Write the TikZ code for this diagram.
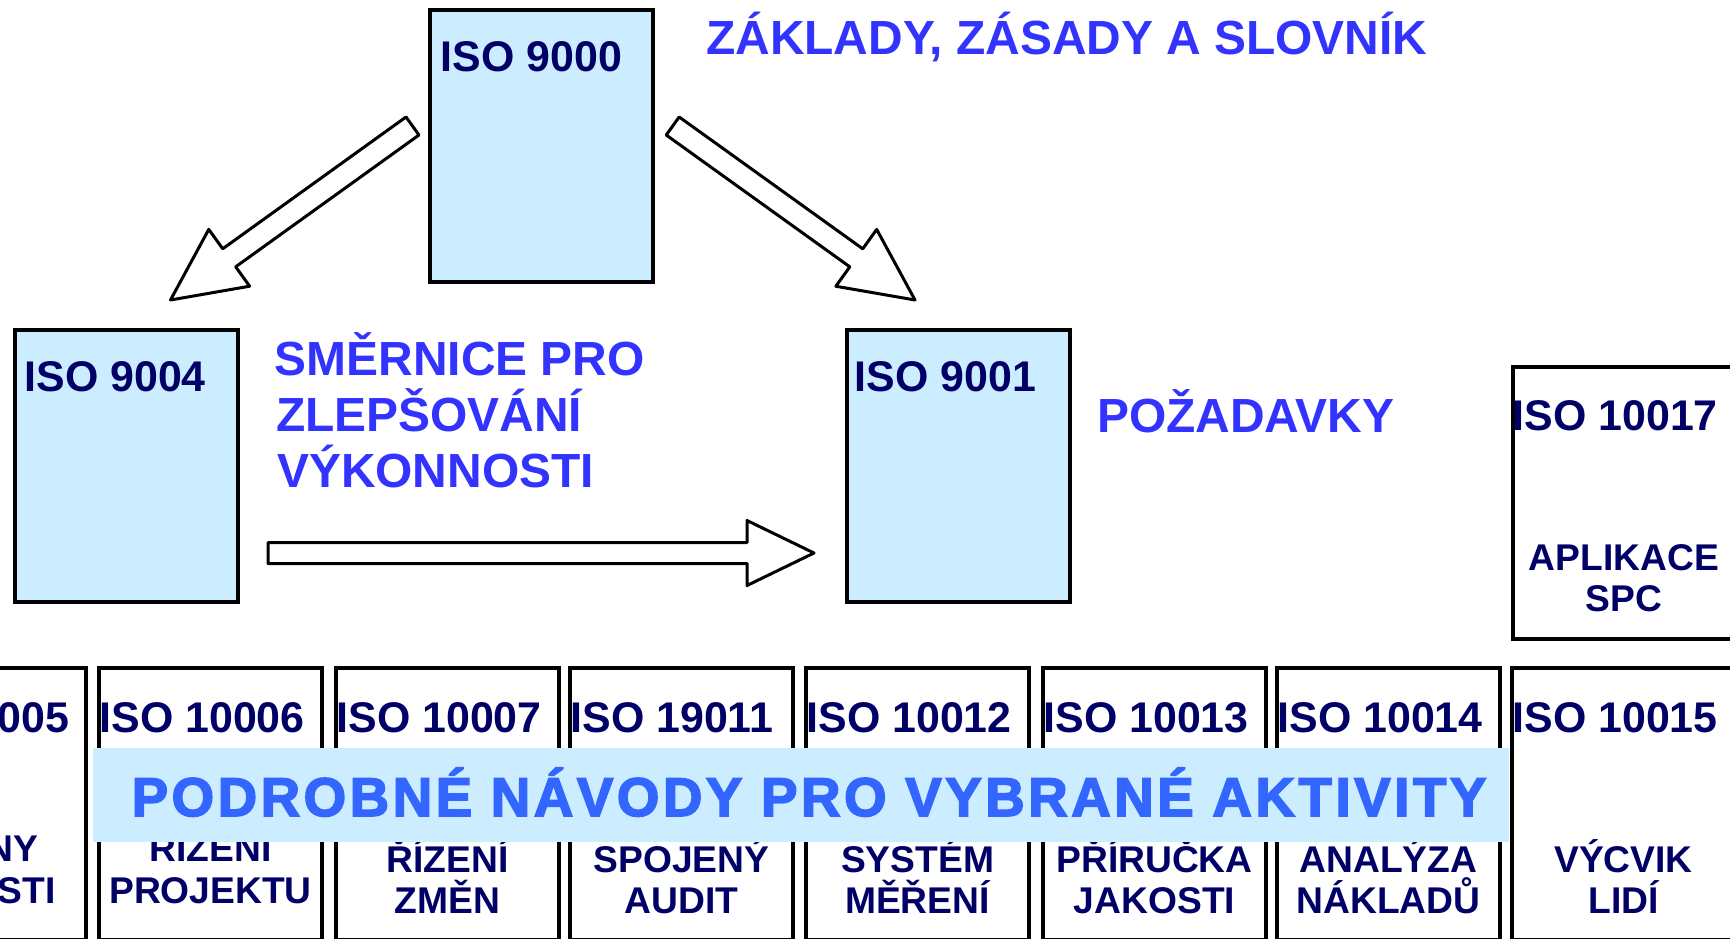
\documentclass[tikz,border=0pt]{standalone}
\usepackage{fontspec}
\setmainfont{Liberation Sans}
\newfontfamily\bannerfont[LetterSpace=6.7,FakeBold=3]{Liberation Sans Bold}
\usetikzlibrary{calc}
\definecolor{navy}{HTML}{000066}
\definecolor{headblue}{HTML}{3333FF}
\definecolor{banblue}{HTML}{3366FF}
\definecolor{boxfill}{HTML}{CCECFF}
\tikzset{
  upbox/.style={draw=black, line width=4pt, fill=boxfill, minimum width=223pt, minimum height=272pt, inner sep=0pt, outer sep=0pt, anchor=north west},
  rowbox/.style={draw=black, line width=4pt, fill=white, minimum width=223pt, minimum height=272pt, inner sep=0pt, outer sep=0pt, anchor=north west},
  isolabel/.style={text=navy, font=\fontsize{42.9}{50}\selectfont\bfseries, inner sep=0pt, anchor=base west},
  subtext/.style={text=navy, font=\fontsize{37.2}{44}\selectfont\bfseries, inner sep=0pt, anchor=base},
  headtext/.style={text=headblue, font=\fontsize{47.9}{56}\selectfont\bfseries, inner sep=0pt, anchor=base west},
  bannerbox/.style={fill=boxfill, minimum width=1416pt, minimum height=94pt, inner sep=0pt, outer sep=0pt, anchor=north west},
  bannertext/.style={text=banblue, font=\bannerfont\fontsize{54.5}{60}\selectfont, inner sep=0pt, anchor=base west},
  blockarr/.style={draw=black, line width=3pt, fill=white, line join=round},
}
% tail, tip, shaft half width, head half width, head length
\newcommand\blockarrow[5]{%
  \coordinate (hb) at ($(#2)!#5!(#1)$);
  \draw[blockarr] ($(#1)!#3!90:(#2)$) -- ($(hb)!#3!90:(#2)$) -- ($(hb)!#4!90:(#2)$) -- (#2)
    -- ($(hb)!#4!-90:(#2)$) -- ($(hb)!#3!-90:(#2)$) -- ($(#1)!#3!-90:(#2)$) -- cycle;
}
\begin{document}
\begin{tikzpicture}[x=1pt,y=-1pt]
\useasboundingbox (0,0) rectangle (1730,939);
\fill[white] (0,0) rectangle (1730,939);

% upper boxes
\node[upbox] (iso9000) at (429.7,9.8) {};
\node[upbox] (iso9004) at (14.5,329.8) {};
\node[upbox] (iso9001) at (846.5,329.8) {};
\node[isolabel] (t9000) at ($(iso9000.north west)+(10.8,62)$) {ISO 9000};
\node[isolabel] (t9004) at ($(iso9004.north west)+(9.8,62)$) {ISO 9004};
\node[isolabel] (t9001) at ($(iso9001.north west)+(8,62)$) {ISO 9001};

% headings
\node[headtext] (hZ) at (706,55) {ZÁKLADY, ZÁSADY A SLOVNÍK};
\node[headtext] (hS1) at (274.6,375) {SMĚRNICE PRO};
\node[headtext] (hS2) at (276,431) {ZLEPŠOVÁNÍ};
\node[headtext] (hS3) at (277,487) {VÝKONNOSTI};
\node[headtext] (hP) at (1097,432.7) {POŽADAVKY};

% block arrows
\coordinate (tailL) at (412.5,126);
\coordinate (tipL) at (170.5,300);
\blockarrow{tailL}{tipL}{11.1pt}{35pt}{72.3pt}
\coordinate (tailR) at (672.7,126);
\coordinate (tipR) at (915,300);
\blockarrow{tailR}{tipR}{11.1pt}{35pt}{72.3pt}
\coordinate (tailH) at (268,553);
\coordinate (tipH) at (814,553);
\blockarrow{tailH}{tipH}{10.5pt}{32.5pt}{67pt}

% ISO 10017
\node[rowbox] (iso10017) at (1512.5,367) {};
\node[isolabel] (t10017) at ($(iso10017.north west)+(0,63)$) {ISO 10017};
\node[subtext] (s10017a) at ($(iso10017.north)+(0,203.7)$) {APLIKACE};
\node[subtext] (s10017b) at ($(iso10017.north)+(0,244.7)$) {SPC};

% bottom row
\foreach \i/\x/\num/\la/\lb/\ya/\yb in {
  0/-136.6/10005/PLÁNY/JAKOSTI/193/235,
  1/99/10006/ŘÍZENÍ/PROJEKTU/193/235,
  2/336/10007/ŘÍZENÍ/ZMĚN/204/245,
  3/570/19011/SPOJENÝ/AUDIT/204/245,
  4/806/10012/SYSTÉM/MĚŘENÍ/204/245,
  5/1043/10013/PŘÍRUČKA/JAKOSTI/204/245,
  6/1277/10014/ANALÝZA/NÁKLADŮ/204/245,
  7/1512/10015/VÝCVIK/LIDÍ/204/245}{
  \node[rowbox] (r\i) at (\x,668) {};
  \node[isolabel] (rl\i) at ($(r\i.north west)+(0.3,64)$) {ISO \num};
  \node[subtext] (ra\i) at ($(r\i.north)+(0,\ya)$) {\la};
  \node[subtext] (rb\i) at ($(r\i.north)+(0,\yb)$) {\lb};
}

% banner
\node[bannerbox] (banner) at (93,747.5) {};
\node[bannertext] (bantext) at (131.5,816) {PODROBNÉ NÁVODY PRO VYBRANÉ AKTIVITY};
\end{tikzpicture}
\end{document}
